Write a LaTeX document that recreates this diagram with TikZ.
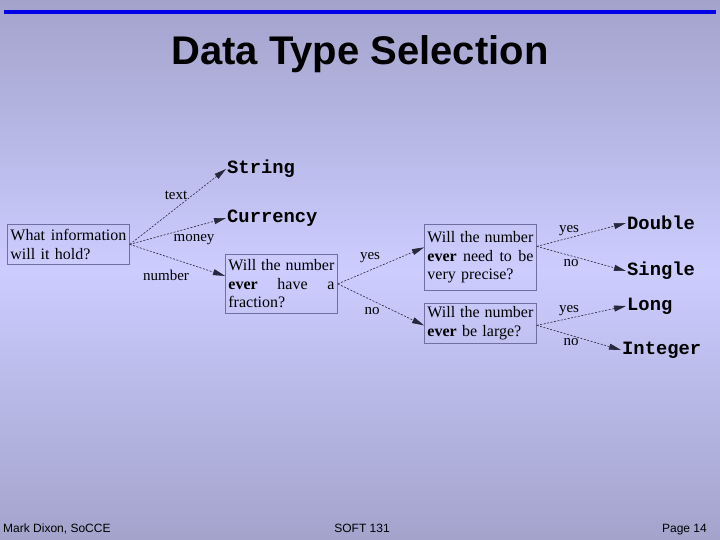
\documentclass[tikz,border=0pt]{standalone}
\usepackage{fontspec}
\setmainfont{Liberation Serif}
\setsansfont{Liberation Sans}
\setmonofont{Liberation Mono}
\usetikzlibrary{arrows.meta,positioning}
\definecolor{bgtop}{RGB}{163,163,204}
\definecolor{bgmid}{RGB}{204,204,255}
\definecolor{boxline}{RGB}{112,112,160}
\definecolor{rulecol}{RGB}{0,0,230}
\definecolor{arrcol}{RGB}{40,40,60}

\begin{document}
\begin{tikzpicture}[
  x=1pt,y=-1pt,
  box/.style={draw=boxline,line width=0.8pt,anchor=north west,align=left,
              inner sep=3pt,text width=106pt,
              font=\fontsize{16}{18.5}\selectfont},
  typ/.style={anchor=west,inner sep=1pt,
              font=\ttfamily\bfseries\fontsize{18.8}{20}\selectfont},
  lbl/.style={inner sep=1pt,font=\fontsize{15}{17}\selectfont},
  foot/.style={inner sep=0pt,font=\sffamily\fontsize{12}{14}\selectfont},
  arr/.style={-{Triangle[length=12pt,width=6pt]},arrcol,line width=0.6pt,
              dash pattern=on 2pt off 1.5pt}
]
\useasboundingbox (0,0) rectangle (720,540);
\shade[top color=bgtop,bottom color=bgtop,middle color=bgmid]
  (0,0) rectangle (720,540);
\draw[rulecol,line width=4pt] (4,12) -- (716,12);

\node[font=\sffamily\bfseries\fontsize{40}{44}\selectfont] (title) at (360,54)
  {Data Type Selection};

% questions
\node[box,text width=116pt,minimum height=40pt] (hold) at (7,224)
  {What\hfill information\\ will it hold?};
\node[box,minimum height=59pt] (frac) at (225,254)
  {Will\hfill the\hfill number\\ \textbf{ever}\hfill have\hfill a\\ fraction?};
\node[box,minimum height=66pt] (precise) at (424,224)
  {Will\hfill the\hfill number\\ \textbf{ever}\hfill need\hfill to\hfill be\\ very precise?};
\node[box,minimum height=40pt] (large) at (424,303)
  {Will\hfill the\hfill number\\ \textbf{ever} be large?};

% data types
\node[typ] (string) at (226,169) {String};
\node[typ] (currency) at (226,218) {Currency};
\node[typ] (double) at (626,223) {Double};
\node[typ] (single) at (626,271) {Single};
\node[typ] (long) at (626,306) {Long};
\node[typ] (integer) at (621,350) {Integer};

\draw[arr] (hold.east) -- (string.west);
\draw[arr] (hold.east) -- (currency.west);
\draw[arr] (hold.east) -- ([yshift=8pt]frac.west);
\draw[arr] (frac.east) -- ([yshift=10pt]precise.west);
\draw[arr] (frac.east) -- ([yshift=-2pt]large.west);
\draw[arr] ([yshift=11pt]precise.east) -- (double.west);
\draw[arr] ([yshift=11pt]precise.east) -- (single.west);
\draw[arr] ([yshift=-2pt]large.east) -- (long.west);
\draw[arr] ([yshift=-2pt]large.east) -- (integer.west);

% answers
\node[lbl] (ltext) at (176,195) {text};
\node[lbl] (lmoney) at (194,240) {money};
\node[lbl] (lnumber) at (166,275) {number};
\node[lbl] (lyes1) at (370,258) {yes};
\node[lbl] (lno1) at (372,311) {no};
\node[lbl] (lyes2) at (569,231) {yes};
\node[lbl] (lno2) at (571,263) {no};
\node[lbl] (lyes3) at (569,311) {yes};
\node[lbl] (lno3) at (571,342) {no};

% footer
\node[foot,anchor=base west] (author) at (3,532) {Mark Dixon, SoCCE};
\node[foot,anchor=base] (course) at (362,532) {SOFT 131};
\node[foot,anchor=base east] (page) at (707,532) {Page 14};
\end{tikzpicture}
\end{document}
